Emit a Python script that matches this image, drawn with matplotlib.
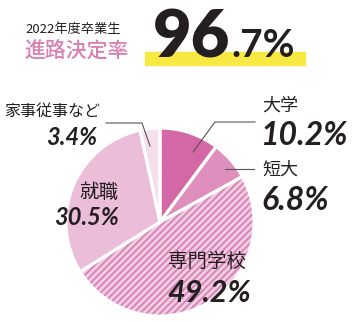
import matplotlib
matplotlib.use("Agg")
import matplotlib.pyplot as plt
from matplotlib.patches import Rectangle

# data
categories = ["大学", "短大", "専門学校", "就職", "家事従事など"]
shares = [10.2, 6.8, 49.2, 30.5, 3.4]
share_labels = ["10.2%", "6.8%", "49.2%", "30.5%", "3.4%"]
colors = ["#d468a6", "#df8fbd", "#f3cbe2", "#ecbdd9", "#f5dfeb"]
hatches = [None, None, "/////", None, None]
year_label = "2022年度卒業生"
rate_label = "進路決定率"
rate_big = "96"
rate_small = ".7%"

JP = ["Noto Sans CJK JP", "DejaVu Sans"]
NUM = ["Lato", "DejaVu Sans"]
INK = "#231f20"
PINK = "#d97fb2"
HATCH = "#d383b5"

W, H = 360, 322
fig = plt.figure(figsize=(W / 100, H / 100), dpi=100)
fig.patch.set_facecolor("white")
ax = fig.add_axes([0, 0, 1, 1])


def Y(py):
    return H - py


plt.rcParams["hatch.linewidth"] = 1.3
center = (160, Y(222))
radius = 94

# filled wedges (hatch colour comes from the edge colour)
wedges, _ = ax.pie(shares, colors=colors, startangle=90, counterclock=False,
                   center=center, radius=radius, frame=True,
                   wedgeprops=dict(linewidth=0))
for w, h in zip(wedges, hatches):
    if h:
        w.set_hatch(h)
        w.set_edgecolor(HATCH)
# white separators on top
ax.pie(shares, colors=["none"] * len(shares), startangle=90, counterclock=False,
       center=center, radius=radius, frame=True,
       wedgeprops=dict(linewidth=2.2, edgecolor="white", fill=False))
ax.set_xlim(0, W)
ax.set_ylim(0, H)
ax.set_aspect("equal")
ax.axis("off")

# header
ax.text(25, Y(29), year_label, fontsize=9.5, family=JP, color=INK,
        ha="left", va="center")
ax.text(24, Y(52), rate_label, fontsize=15, family=JP, color=PINK,
        fontweight="medium", ha="left", va="center")
ax.add_patch(Rectangle((145, Y(65)), 160, 13, color="#f7e842", zorder=1))
t = ax.text(153, Y(57), rate_big, fontsize=48, family=NUM, fontweight="heavy",
            color=INK, ha="left", va="baseline", zorder=2)
fig.canvas.draw()
bb = t.get_window_extent().transformed(ax.transData.inverted())
ax.text(bb.x1 + 1, Y(57), rate_small, fontsize=28, family=NUM,
        fontweight="bold", color=INK, ha="left", va="baseline", zorder=2)

lw = 0.8
num_kw = dict(family=NUM, style="italic", fontweight="bold", color=INK,
              va="baseline")
# 大学
ax.plot([255, 215, 193], [Y(122), Y(122), Y(152)], color="#555555", lw=lw)
ax.text(262, Y(106), categories[0], fontsize=13, family=JP, color=INK,
        ha="left", va="center")
ax.text(261, Y(145), share_labels[0], fontsize=23, ha="left", **num_kw)
# 短大
ax.plot([225, 254], [Y(169), Y(169)], color="#555555", lw=lw)
ax.text(262, Y(170), categories[1], fontsize=13, family=JP, color=INK,
        ha="left", va="center")
ax.text(261, Y(210), share_labels[1], fontsize=23, ha="left", **num_kw)
# 専門学校
ax.text(207, Y(261), categories[2], fontsize=14, family=JP, color=INK,
        ha="center", va="center")
ax.text(209, Y(302), share_labels[2], fontsize=22, ha="center", **num_kw)
# 就職
ax.text(118, Y(192), categories[3], fontsize=14, family=JP, color=INK,
        ha="right", va="center")
ax.text(119, Y(225), share_labels[3], fontsize=17, ha="right", **num_kw)
# 家事従事など
ax.plot([106, 142, 150], [Y(123), Y(123), Y(146)], color="#555555", lw=lw)
ax.text(100, Y(111), categories[4], fontsize=11.5, family=JP, color=INK,
        ha="right", va="center")
ax.text(97, Y(145), share_labels[4], fontsize=17, ha="right", **num_kw)

fig.savefig("out.png", dpi=100, facecolor="white")
